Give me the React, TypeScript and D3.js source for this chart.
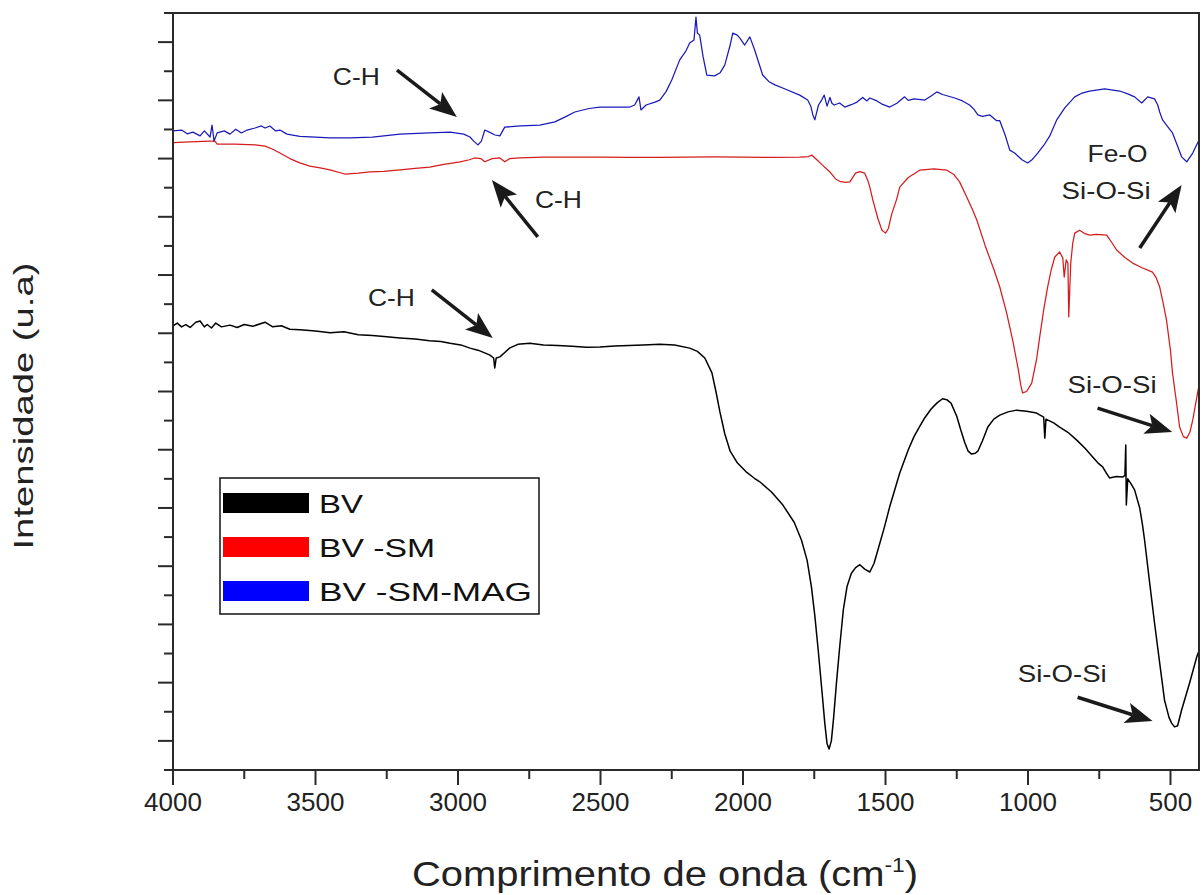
import React from 'react';
import * as d3 from 'd3';

type Pt = [number, number];

// wavenumber (cm-1), intensity (u.a.)
const bv: Pt[] = [
  [4000, 15.25], [3985, 15.35], [3970, 15.22], [3955, 15.3], [3940, 15.2], [3920, 15.38], [3905, 15.42],
  [3890, 15.22], [3880, 15.3], [3865, 15.18], [3850, 15.35], [3830, 15.22], [3800, 15.28], [3775, 15.2],
  [3750, 15.3], [3720, 15.24], [3677, 15.38], [3650, 15.22], [3620, 15.26], [3590, 15.14], [3555, 15.12],
  [3500, 15.08], [3449, 15.02], [3400, 15.05], [3350, 14.95], [3300, 14.92], [3250, 14.88], [3204, 14.84],
  [3150, 14.8], [3100, 14.74], [3060, 14.72], [3028, 14.66], [2990, 14.6], [2958, 14.49], [2930, 14.42],
  [2900, 14.3], [2888, 14.25], [2875, 14.15], [2871, 13.81], [2866, 14.15], [2853, 14.19], [2835, 14.35],
  [2818, 14.5], [2790, 14.62], [2748, 14.66], [2700, 14.6], [2650, 14.58], [2600, 14.55], [2550, 14.52],
  [2502, 14.53], [2450, 14.56], [2400, 14.58], [2350, 14.6], [2292, 14.62], [2240, 14.6], [2187, 14.49],
  [2160, 14.38], [2134, 14.15], [2109, 13.64], [2095, 13.0], [2081, 12.3], [2064, 11.55], [2045, 10.95],
  [2020, 10.55], [1990, 10.25], [1960, 10.02], [1941, 9.9], [1900, 9.55], [1860, 9.1], [1820, 8.5],
  [1795, 7.9], [1775, 7.2], [1760, 6.3], [1748, 5.3], [1735, 4.0], [1722, 2.6], [1713, 1.6],
  [1705, 0.9], [1698, 0.72], [1690, 1.0], [1682, 1.8], [1672, 3.0], [1661, 4.2], [1648, 5.5],
  [1635, 6.3], [1620, 6.75], [1605, 6.95], [1590, 7.05], [1573, 6.9], [1555, 6.8], [1540, 7.1],
  [1527, 7.55], [1505, 8.3], [1485, 9.05], [1450, 10.2], [1420, 11.0], [1400, 11.45], [1380, 11.8],
  [1362, 12.1], [1340, 12.4], [1320, 12.6], [1300, 12.75], [1285, 12.72], [1270, 12.6], [1250, 12.15],
  [1235, 11.65], [1222, 11.25], [1210, 10.95], [1198, 10.85], [1185, 10.88], [1176, 10.95], [1160, 11.3],
  [1141, 11.78], [1120, 12.05], [1099, 12.19], [1070, 12.3], [1040, 12.36], [1005, 12.32], [970, 12.26],
  [945, 12.12], [941, 11.4], [937, 12.05], [910, 11.92], [889, 11.78], [860, 11.6], [829, 11.33],
  [800, 11.05], [773, 10.75], [755, 10.55], [738, 10.41], [725, 10.2], [714, 10.03], [690, 10.08],
  [668, 10.06], [660, 10.12], [657, 11.16], [655, 9.1], [650, 10.0], [640, 9.85], [626, 9.62],
  [608, 9.0], [598, 8.4], [591, 7.9], [573, 6.42], [556, 5.05], [538, 3.68], [521, 2.4],
  [505, 1.8], [496, 1.61], [486, 1.48], [475, 1.52], [461, 2.06], [433, 2.99], [408, 3.88], [400, 4.1],
];

const bvSm: Pt[] = [
  [4000, 21.55], [3940, 21.57], [3870, 21.6], [3853, 21.6], [3845, 21.5], [3783, 21.5], [3712, 21.47],
  [3677, 21.43], [3650, 21.32], [3625, 21.19], [3590, 21.0], [3555, 20.85], [3520, 20.74], [3484, 20.68],
  [3449, 20.61], [3397, 20.47], [3350, 20.5], [3309, 20.54], [3260, 20.56], [3204, 20.61], [3150, 20.66],
  [3099, 20.71], [3050, 20.8], [2993, 20.89], [2960, 20.96], [2941, 21.02], [2920, 21.0], [2906, 20.89],
  [2880, 21.0], [2853, 21.02], [2836, 20.89], [2818, 21.0], [2783, 21.02], [2700, 21.05], [2600, 21.05],
  [2502, 21.05], [2400, 21.04], [2300, 21.04], [2200, 21.05], [2100, 21.06], [2000, 21.05], [1900, 21.04],
  [1801, 21.05], [1770, 21.07], [1759, 21.12], [1740, 20.95], [1724, 20.8], [1696, 20.55], [1675, 20.3],
  [1661, 20.22], [1640, 20.18], [1625, 20.2], [1605, 20.5], [1590, 20.55], [1573, 20.5], [1562, 20.25],
  [1555, 20.02], [1545, 19.6], [1527, 18.95], [1513, 18.55], [1500, 18.44], [1490, 18.6], [1478, 19.1],
  [1461, 19.6], [1450, 20.02], [1420, 20.35], [1380, 20.6], [1330, 20.65], [1285, 20.6], [1260, 20.45],
  [1240, 20.2], [1215, 19.68], [1195, 19.25], [1180, 18.9], [1150, 18.0], [1120, 17.2], [1099, 16.59],
  [1075, 15.7], [1054, 14.77], [1035, 13.8], [1025, 13.2], [1019, 12.95], [1005, 13.0], [987, 13.29],
  [970, 14.1], [959, 14.87], [945, 15.8], [931, 16.59], [918, 17.2], [906, 17.62], [889, 17.79],
  [878, 17.59], [873, 16.93], [866, 17.52], [860, 17.4], [857, 15.56], [850, 17.41], [843, 18.1],
  [836, 18.44], [819, 18.54], [800, 18.42], [784, 18.37], [760, 18.4], [724, 18.37], [705, 18.1],
  [689, 17.86], [660, 17.6], [633, 17.41], [600, 17.25], [563, 17.1], [550, 16.9], [538, 16.59],
  [525, 16.0], [514, 15.45], [500, 14.4], [493, 13.64], [480, 12.7], [468, 11.78], [455, 11.45],
  [443, 11.4], [432, 11.6], [422, 12.02], [405, 12.95], [400, 13.2],
];

const bvSmMag: Pt[] = [
  [4000, 21.95], [3970, 21.98], [3950, 21.85], [3930, 21.91], [3905, 21.78], [3890, 21.95], [3870, 21.74],
  [3863, 22.15], [3856, 21.6], [3845, 21.88], [3820, 21.95], [3800, 21.84], [3780, 22.01], [3760, 21.88],
  [3740, 21.98], [3712, 22.05], [3690, 22.12], [3677, 22.05], [3660, 22.12], [3640, 21.95], [3625, 21.98],
  [3600, 21.84], [3555, 21.76], [3500, 21.74], [3449, 21.71], [3380, 21.71], [3300, 21.74], [3204, 21.84],
  [3100, 21.88], [3028, 21.91], [2980, 21.84], [2958, 21.74], [2945, 21.6], [2930, 21.47], [2918, 21.6],
  [2906, 21.98], [2890, 21.91], [2870, 21.81], [2853, 21.78], [2836, 22.08], [2780, 22.12], [2713, 22.15],
  [2660, 22.26], [2620, 22.45], [2590, 22.6], [2540, 22.72], [2502, 22.77], [2450, 22.77], [2397, 22.77],
  [2380, 22.84], [2365, 23.12], [2358, 22.67], [2340, 22.84], [2309, 22.94], [2292, 23.01], [2270, 23.3],
  [2250, 23.7], [2222, 24.39], [2200, 24.7], [2187, 24.97], [2172, 25.07], [2165, 25.86], [2160, 25.31],
  [2152, 25.24], [2140, 24.5], [2127, 23.87], [2100, 23.84], [2080, 23.95], [2064, 24.21], [2045, 24.9],
  [2036, 25.31], [2020, 25.24], [2011, 25.14], [1994, 24.9], [1976, 25.18], [1959, 24.73], [1945, 24.3],
  [1931, 23.87], [1910, 23.65], [1888, 23.53], [1850, 23.38], [1801, 23.18], [1773, 23.01], [1762, 22.8],
  [1755, 22.5], [1748, 22.33], [1735, 22.84], [1724, 23.01], [1715, 23.18], [1705, 22.8], [1695, 23.1],
  [1688, 22.9], [1680, 22.84], [1661, 22.91], [1643, 22.77], [1620, 22.85], [1600, 22.94], [1580, 23.1],
  [1565, 22.98], [1555, 23.08], [1530, 22.98], [1510, 22.86], [1485, 22.77], [1460, 22.9], [1433, 23.12],
  [1420, 23.0], [1400, 23.05], [1362, 23.01], [1340, 23.15], [1320, 23.29], [1300, 23.2], [1257, 23.08],
  [1230, 22.98], [1205, 22.84], [1190, 22.7], [1176, 22.5], [1160, 22.45], [1134, 22.5], [1110, 22.3],
  [1099, 22.3], [1080, 21.8], [1064, 21.29], [1047, 21.19], [1020, 20.95], [1001, 20.85], [987, 20.95],
  [966, 21.19], [945, 21.45], [924, 21.77], [899, 22.33], [871, 22.74], [836, 23.12], [810, 23.25],
  [784, 23.32], [731, 23.39], [678, 23.32], [650, 23.22], [626, 23.12], [601, 22.91], [580, 23.12],
  [556, 23.05], [545, 22.85], [538, 22.6], [528, 22.33], [510, 22.1], [493, 21.88], [478, 21.5],
  [461, 21.06], [443, 20.89], [422, 21.19], [400, 21.64],
];

const seriesNames = ['BV', 'BV -SM', 'BV -SM-MAG'];
const seriesData = [bv, bvSm, bvSmMag];
const lineColors = ['#000000', '#d41c1c', '#1a1ab8'];
const legendColors = ['#000000', '#ff0000', '#0000ff'];

const xMajorTicks = [4000, 3500, 3000, 2500, 2000, 1500, 1000, 500];
const xMinorTicks = [3750, 3250, 2750, 2250, 1750, 1250, 750];

// annotations in data coordinates: label anchor, arrow tail, arrow head
const annotations = [
  { label: 'C-H', at: [3439, 23.53], from: [3214, 24.04], to: [3004, 22.43] },
  { label: 'C-H', at: [2730, 19.3], from: [2720, 18.31], to: [2881, 20.26] },
  { label: 'C-H', at: [3316, 15.94], from: [3092, 16.49], to: [2878, 14.84] },
  { label: 'Fe-O', at: [791, 20.89], from: null, to: null },
  { label: 'Si-O-Si', at: [882, 19.61], from: [608, 17.93], to: [461, 20.09] },
  { label: 'Si-O-Si', at: [861, 12.95], from: [756, 12.43], to: [494, 11.61] },
  { label: 'Si-O-Si', at: [1036, 3.02], from: [826, 2.5], to: [563, 1.68] },
];

const FONT = '"Liberation Sans", Arial, sans-serif';
const W = 1202;
const H = 895;
const L = 173, R = 1199, T = 13, B = 770;

function textWidth(s: string) {
  if (s === 'C-H') return 47;
  if (s === 'Fe-O') return 60;
  return 89;
}

export default function App() {
  const x = d3.scaleLinear().domain([4000, 400]).range([L, R]);
  const y = d3.scaleLinear().domain([0, 26]).range([B, T]);
  const line = d3.line<Pt>().x((d) => x(d[0])).y((d) => y(d[1]));
  const yMajor = d3.range(1, 26, 2);
  const yMinor = d3.range(0, 27, 2);

  const arrows = annotations.filter((a) => a.from && a.to).map((a, i) => {
    const x1 = x(a.from![0]), y1 = y(a.from![1]);
    const x2 = x(a.to![0]), y2 = y(a.to![1]);
    const ang = Math.atan2(y2 - y1, x2 - x1);
    const hl = 27, hw = 10.5;
    const bx = x2 - hl * Math.cos(ang), by = y2 - hl * Math.sin(ang);
    const px = -Math.sin(ang) * hw, py = Math.cos(ang) * hw;
    const nx = x2 - (hl - 6) * Math.cos(ang), ny = y2 - (hl - 6) * Math.sin(ang);
    return (
      <g key={'ar' + i}>
        <line x1={x1} y1={y1} x2={nx} y2={ny} stroke="#1a1a1a" strokeWidth={3.5} />
        <polygon points={`${x2},${y2} ${bx + px},${by + py} ${nx},${ny} ${bx - px},${by - py}`} fill="#1a1a1a" />
      </g>
    );
  });

  return (
    <svg width={W} height={H} style={{ position: 'absolute', left: 0, top: 0, background: '#fff' }} fontFamily={FONT}>
      <rect x={0} y={0} width={W} height={H} fill="#fff" />
      <defs>
        <clipPath id="plotclip">
          <rect x={L} y={T} width={R - L} height={B - T} />
        </clipPath>
      </defs>
      <g clipPath="url(#plotclip)">
        {seriesData.map((d, i) => (
          <path key={i} d={line(d) || ''} fill="none" stroke={lineColors[i]} strokeWidth={i === 0 ? 1.5 : 1.25} strokeLinejoin="round" />
        ))}
      </g>
      <rect x={L} y={T} width={R - L} height={B - T} fill="none" stroke="#2a2a2a" strokeWidth={2} />
      {xMajorTicks.map((t) => (
        <g key={'xm' + t}>
          <line x1={x(t)} x2={x(t)} y1={B} y2={B + 15} stroke="#2a2a2a" strokeWidth={2} />
          <text x={x(t)} y={811} textAnchor="middle" fontSize={26} fill="#222">{t}</text>
        </g>
      ))}
      {xMinorTicks.map((t) => (
        <line key={'xn' + t} x1={x(t)} x2={x(t)} y1={B} y2={B + 9} stroke="#2a2a2a" strokeWidth={2} />
      ))}
      {yMajor.map((t) => (
        <line key={'ym' + t} x1={L - 15} x2={L} y1={y(t)} y2={y(t)} stroke="#2a2a2a" strokeWidth={2} />
      ))}
      {yMinor.map((t) => (
        <line key={'yn' + t} x1={L - 9} x2={L} y1={y(t)} y2={y(t)} stroke="#2a2a2a" strokeWidth={2} />
      ))}
      <text x={412} y={886} fontSize={35} fill="#222" textLength={506} lengthAdjust="spacingAndGlyphs">
        Comprimento de onda (cm<tspan dy={-14} fontSize={20}>-1</tspan><tspan dy={14}>)</tspan>
      </text>
      <text transform="translate(33,406) rotate(-90)" textAnchor="middle" fontSize={28} fill="#222" textLength={287} lengthAdjust="spacingAndGlyphs">
        Intensidade (u.a)
      </text>
      {annotations.map((a, i) => (
        <text key={'an' + i} x={x(a.at[0])} y={y(a.at[1])} fontSize={24} fill="#222" textLength={textWidth(a.label)} lengthAdjust="spacingAndGlyphs">
          {a.label}
        </text>
      ))}
      {arrows}
      <g>
        <rect x={220} y={478} width={319} height={136} fill="#fff" stroke="#111" strokeWidth={1.5} />
        {seriesNames.map((n, i) => {
          const widths = [44, 116, 213];
          const cy = 503 + i * 44;
          return (
            <g key={'lg' + i}>
              <rect x={223} y={cy - 10} width={86} height={20} fill={legendColors[i]} />
              <text x={319} y={cy + 9.5} fontSize={25} fill="#111" textLength={widths[i]} lengthAdjust="spacingAndGlyphs">{n}</text>
            </g>
          );
        })}
      </g>
    </svg>
  );
}
